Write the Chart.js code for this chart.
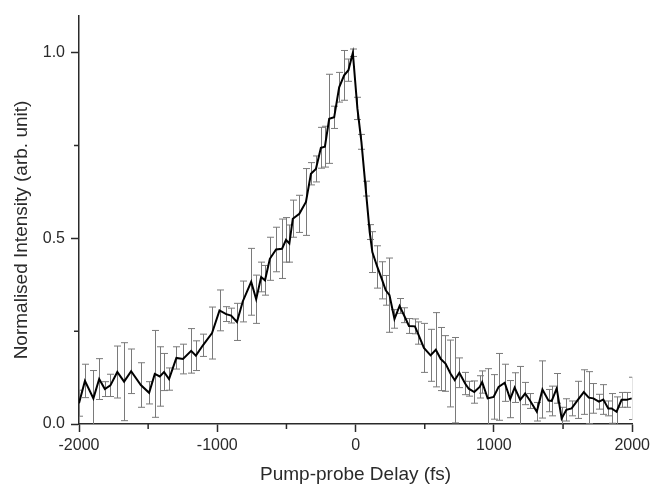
<!DOCTYPE html>
<html>
<head>
<meta charset="utf-8">
<script src="https://cdn.jsdelivr.net/npm/chart.js@4"></script>
<style>
  html, body { margin: 0; padding: 0; background: #fff; }
  #wrap { width: 654px; height: 486px; position: relative; }
</style>
</head>
<body>
<div id="wrap"><canvas id="c" width="654" height="486"></canvas></div>
<script>
// ---- data ----
const delays = [-2000,-1957,-1896,-1854,-1813,-1773,-1723,-1674,-1623,-1553,-1493,-1452,-1416,-1385,-1349,-1296,-1248,-1189,-1155,-1104,
  -1038,-984,-936,-900,-858,-816,-755,-719,-683,-655,-620,-575,-532,-503,-479,-454,-407,-359,-323,-287,
  -251,-222,-191,-155,-119,-83,-52,-20,13,42,73,102,121,157,193,218,245,281,318,350,
  386,429,450,494,542,580,616,650,686,717,750,792,818,858,897,915,955,998,1034,1078,
  1118,1150,1190,1226,1263,1310,1351,1395,1418,1454,1490,1524,1562,1607,1650,1686,1719,1759,1791,1827,
  1851,1887,1923,1959,1996];
const intensity = [0.056,0.116,0.069,0.121,0.094,0.104,0.140,0.114,0.142,0.105,0.084,0.135,0.128,0.140,0.121,0.178,0.175,0.197,0.184,0.212,
  0.245,0.306,0.296,0.292,0.275,0.330,0.383,0.336,0.396,0.387,0.445,0.470,0.472,0.496,0.486,0.553,0.566,0.598,0.674,0.687,
  0.744,0.747,0.822,0.826,0.907,0.939,0.953,1.000,0.850,0.760,0.634,0.517,0.463,0.423,0.387,0.360,0.347,0.283,0.318,0.293,
  0.264,0.263,0.245,0.205,0.185,0.200,0.175,0.163,0.136,0.118,0.138,0.109,0.095,0.086,0.100,0.113,0.069,0.073,0.100,0.111,
  0.067,0.098,0.065,0.082,0.062,0.033,0.093,0.063,0.062,0.096,0.015,0.038,0.042,0.065,0.086,0.071,0.069,0.060,0.066,0.042,
  0.042,0.033,0.065,0.065,0.069];
const errors = [0.035,0.045,0.075,0.055,0.020,0.030,0.070,0.105,0.060,0.060,0.030,0.117,0.080,0.050,0.030,0.030,0.040,0.060,0.040,0.030,
  0.070,0.055,0.020,0.020,0.050,0.055,0.090,0.065,0.040,0.040,0.058,0.060,0.080,0.060,0.050,0.050,0.050,0.090,0.030,0.035,
  0.055,0.055,0.120,0.030,0.040,0.067,0.030,0.010,0.030,0.020,0.020,0.020,0.055,0.057,0.050,0.040,0.100,0.025,0.020,0.020,
  0.020,0.020,0.030,0.066,0.070,0.100,0.085,0.075,0.090,0.115,0.040,0.030,0.020,0.030,0.030,0.030,0.080,0.060,0.090,0.050,
  0.050,0.040,0.090,0.030,0.020,0.025,0.077,0.030,0.040,0.040,0.030,0.030,0.020,0.050,0.060,0.070,0.040,0.020,0.040,0.020,
  0.040,0.040,0.020,0.020,0.057];

const xMajorTicks = [-2000, -1000, 0, 1000, 2000];
const xMinorTicks = [-1500, -500, 500, 1500];
const yMajorTicks = [0, 0.5, 1.0];
const yMinorTicks = [0.25, 0.75];
const xTickLabels = ['-2000', '-1000', '0', '1000', '2000'];
const yTickLabels = ['0.0', '0.5', '1.0'];
const xTitle = 'Pump-probe Delay (fs)';
const yTitle = 'Normalised Intensity (arb. unit)';

const AXIS_COLOR = '#2a2a2a';
const TEXT_COLOR = '#2a2a2a';
const FONT = '"Liberation Sans", Arial, sans-serif';

const errorBarPlugin = {
  id: 'errorBars',
  beforeDatasetsDraw(chart) {
    const { ctx, chartArea, scales } = chart;
    ctx.save();
    ctx.beginPath();
    ctx.rect(chartArea.left, chartArea.top - 2, chartArea.right - chartArea.left, chartArea.bottom - chartArea.top + 2);
    ctx.clip();
    ctx.strokeStyle = '#7a7a7a';
    ctx.lineWidth = 1;
    const cap = 3.5;
    for (let i = 0; i < delays.length; i++) {
      const px = Math.round(scales.x.getPixelForValue(delays[i])) + 0.5;
      const yTop = scales.y.getPixelForValue(intensity[i] + errors[i]);
      const yBot = scales.y.getPixelForValue(intensity[i] - errors[i]);
      ctx.beginPath();
      ctx.moveTo(px, yTop); ctx.lineTo(px, yBot);
      ctx.moveTo(px - cap, yTop); ctx.lineTo(px + cap, yTop);
      ctx.moveTo(px - cap, yBot); ctx.lineTo(px + cap, yBot);
      ctx.stroke();
    }
    ctx.restore();
  }
};

const axisExtrasPlugin = {
  id: 'axisExtras',
  afterDraw(chart) {
    const { ctx, chartArea, scales } = chart;
    ctx.save();
    ctx.strokeStyle = AXIS_COLOR;
    ctx.lineWidth = 1.5;
    ctx.beginPath();
    xMinorTicks.forEach(v => {
      const px = scales.x.getPixelForValue(v);
      ctx.moveTo(px, chartArea.bottom); ctx.lineTo(px, chartArea.bottom + 5);
    });
    yMinorTicks.forEach(v => {
      const py = scales.y.getPixelForValue(v);
      ctx.moveTo(chartArea.left, py); ctx.lineTo(chartArea.left - 5, py);
    });
    ctx.stroke();
    // y axis title
    ctx.fillStyle = TEXT_COLOR;
    ctx.font = '19px ' + FONT;
    ctx.textAlign = 'center';
    ctx.textBaseline = 'middle';
    ctx.translate(22, 230);
    ctx.rotate(-Math.PI / 2);
    ctx.fillText(yTitle, 0, 0);
    ctx.restore();
  }
};

new Chart(document.getElementById('c'), {
  type: 'line',
  data: {
    datasets: [{
      data: delays.map((d, i) => ({ x: d, y: intensity[i] })),
      borderColor: '#000',
      borderWidth: 2,
      pointRadius: 0,
      tension: 0,
      fill: false
    }]
  },
  options: {
    responsive: false,
    animation: false,
    devicePixelRatio: 1,
    layout: { padding: { top: 15, right: 20, left: 0, bottom: 0 } },
    plugins: { legend: { display: false }, tooltip: { enabled: false } },
    scales: {
      x: {
        type: 'linear',
        min: -2000, max: 2000,
        afterBuildTicks: s => { s.ticks = xMajorTicks.map(v => ({ value: v })); },
        afterFit: s => { s.height = 62; },
        ticks: {
          color: TEXT_COLOR,
          font: { family: FONT, size: 16 },
          padding: 4,
          maxRotation: 0,
          callback: (v) => xTickLabels[xMajorTicks.indexOf(v)]
        },
        grid: { drawOnChartArea: false, drawTicks: true, tickLength: 8, tickColor: AXIS_COLOR, tickWidth: 1.5 },
        border: { display: true, color: AXIS_COLOR, width: 1.5 },
        title: {
          display: true, text: xTitle, color: TEXT_COLOR,
          font: { family: FONT, size: 19 }, padding: { top: 0, bottom: 0 }
        }
      },
      y: {
        type: 'linear',
        min: 0, max: 1.1,
        afterBuildTicks: s => { s.ticks = yMajorTicks.map(v => ({ value: v })); },
        afterFit: s => { s.width = 79; },
        ticks: {
          color: TEXT_COLOR,
          font: { family: FONT, size: 16 },
          padding: 6,
          callback: (v) => yTickLabels[yMajorTicks.indexOf(v)]
        },
        grid: { drawOnChartArea: false, drawTicks: true, tickLength: 8, tickColor: AXIS_COLOR, tickWidth: 1.5 },
        border: { display: true, color: AXIS_COLOR, width: 1.5 }
      }
    }
  },
  plugins: [errorBarPlugin, axisExtrasPlugin]
});
</script>
</body>
</html>
